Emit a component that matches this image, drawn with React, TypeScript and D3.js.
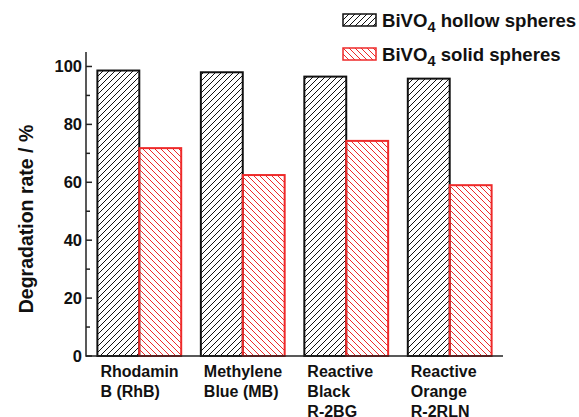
import React from "react";
import * as d3 from "d3";

const categories = ["RhB", "MB", "RB", "RO"];
const categoryLines = [
  ["Rhodamin", "B (RhB)"],
  ["Methylene", "Blue (MB)"],
  ["Reactive", "Black", "R-2BG"],
  ["Reactive", "Orange", "R-2RLN"],
];
const series = ["hollow", "solid"];
const hollowValues = [98.6, 98.0, 96.5, 95.8];
const solidValues = [71.8, 62.5, 74.3, 59.0];
const majorTicks = [0, 20, 40, 60, 80, 100];
const minorTicks = [10, 30, 50, 70, 90];

const width = 579;
const height = 417;
const font = "'Liberation Sans', Arial, Helvetica, sans-serif";
const red = "#ee2a2a";

const x = d3
  .scaleBand<string>()
  .domain(categories)
  .range([86, 503])
  .paddingInner(0.19)
  .paddingOuter(0.11);
const xInner = d3
  .scaleBand<string>()
  .domain(series)
  .range([0, x.bandwidth()]);
const y = d3.scaleLinear().domain([0, 105]).range([356, 52]);

const App = () => {
  const x0 = x.range()[0];
  const x1 = x.range()[1];
  const y0 = y(0);
  const bars = categories.flatMap((c, i) => [
    { cat: c, s: "hollow", v: hollowValues[i] },
    { cat: c, s: "solid", v: solidValues[i] },
  ]);

  return (
    <svg
      width={width}
      height={height}
      style={{ position: "absolute", left: 0, top: 0, background: "#fff" }}
      fontFamily={font}
    >
      <defs>
        <pattern id="hatchHollow" patternUnits="userSpaceOnUse" width={6} height={6}>
          <path d="M-1,1 l2,-2 M0,6 l6,-6 M5,7 l2,-2" stroke="#111" strokeWidth={1} />
        </pattern>
        <pattern id="hatchSolid" patternUnits="userSpaceOnUse" width={6} height={6}>
          <path d="M-1,5 l2,2 M0,0 l6,6 M5,-1 l2,2" stroke={red} strokeWidth={1} />
        </pattern>
      </defs>

      {/* bars */}
      {bars.map((b, i) => (
        <rect
          key={i}
          x={x(b.cat)! + xInner(b.s)!}
          y={y(b.v)}
          width={xInner.bandwidth()}
          height={y0 - y(b.v)}
          fill={b.s === "hollow" ? "url(#hatchHollow)" : "url(#hatchSolid)"}
          stroke={b.s === "hollow" ? "#111" : red}
          strokeWidth={2}
        />
      ))}

      {/* axes */}
      <line x1={x0} x2={x0} y1={y.range()[1]} y2={y0 + 0.75} stroke="#222" strokeWidth={1.5} />
      <line x1={x0} x2={x1} y1={y0} y2={y0} stroke="#222" strokeWidth={1.5} />
      {majorTicks.map((t) => (
        <g key={t}>
          <line x1={x0} x2={x0 + 6} y1={y(t)} y2={y(t)} stroke="#222" strokeWidth={1.5} />
          <text
            x={x0 - 4}
            y={y(t)}
            dy="0.36em"
            textAnchor="end"
            fontSize={16.5}
            fontWeight="bold"
            fill="#111"
          >
            {t}
          </text>
        </g>
      ))}
      {minorTicks.map((t) => (
        <line key={t} x1={x0} x2={x0 + 4} y1={y(t)} y2={y(t)} stroke="#222" strokeWidth={1.5} />
      ))}

      {/* category labels */}
      {categories.map((c, i) => (
        <text
          key={c}
          x={x(c)! + 3}
          y={377}
          fontSize={16}
          fontWeight="bold"
          fill="#111"
        >
          {categoryLines[i].map((l, j) => (
            <tspan key={j} x={x(c)! + 3} y={377 + j * 20}>
              {l}
            </tspan>
          ))}
        </text>
      ))}

      {/* y label */}
      <text
        transform="translate(33,219) rotate(-90)"
        textAnchor="middle"
        fontSize={19.5}
        fontWeight="bold"
        fill="#111"
      >
        Degradation rate / %
      </text>

      {/* legend */}
      {series.map((s, i) => (
        <g key={s} transform={`translate(343,${14 + i * 34})`}>
          <rect
            width={33}
            height={12}
            fill={s === "hollow" ? "url(#hatchHollow)" : "url(#hatchSolid)"}
            stroke={s === "hollow" ? "#111" : red}
            strokeWidth={1.5}
          />
          <text x={39} y={13} fontSize={18.6} fontWeight="bold" fill="#111">
            BiVO
            <tspan fontSize={14.5} dy={5}>4</tspan>
            <tspan dy={-5}>{s === "hollow" ? " hollow spheres" : " solid spheres"}</tspan>
          </text>
        </g>
      ))}
    </svg>
  );
};

export default App;
